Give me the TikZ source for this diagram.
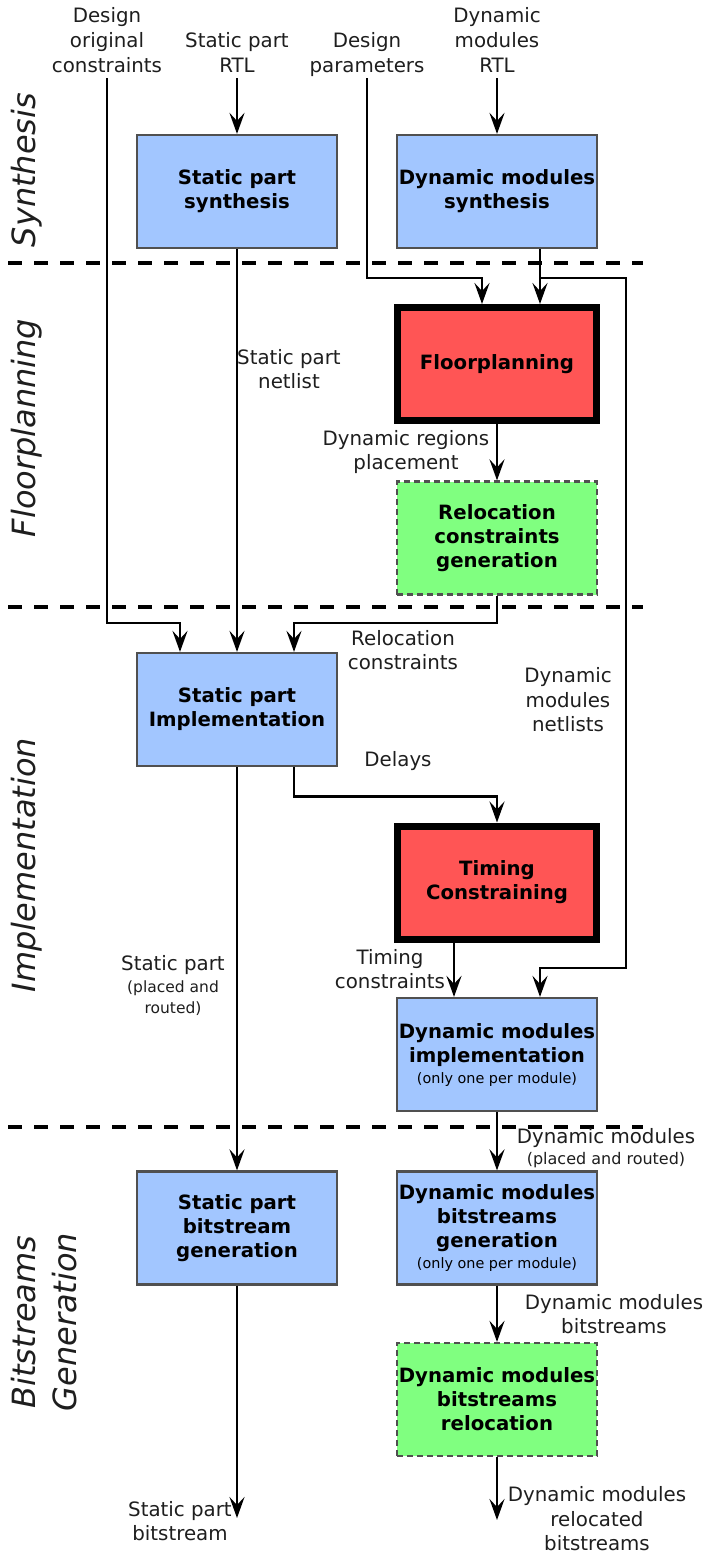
\documentclass[tikz,border=0pt]{standalone}
\usepackage{fontspec}
\setmainfont{DejaVu Sans}
\usetikzlibrary{arrows.meta,calc}
\definecolor{boxblue}{RGB}{162,198,255}
\definecolor{boxred}{RGB}{255,85,85}
\definecolor{boxgreen}{RGB}{128,255,128}
\definecolor{boxedge}{RGB}{80,80,80}
\definecolor{labelgray}{RGB}{30,30,30}
\newcommand{\smallf}{\fontsize{14.4}{17}\selectfont\mdseries}
\begin{document}
\begin{tikzpicture}[x=1pt,y=-1pt,
  txt/.style={font=\fontsize{19.8}{24.5}\selectfont, text=labelgray, align=center, inner sep=0pt},
  toplbl/.style={txt, font=\fontsize{19.8}{25}\selectfont, anchor=south, text depth=0pt, outer ysep=6pt},
  proc/.style={rectangle, minimum width=200pt, minimum height=113pt, align=center, inner sep=0pt,
    font=\fontsize{19.7}{24}\selectfont\bfseries, text=black},
  bluebox/.style={proc, fill=boxblue, draw=boxedge, line width=2.2pt},
  redbox/.style={proc, fill=boxred, draw=black, line width=7pt, minimum width=199pt},
  greenbox/.style={proc, fill=boxgreen, draw=boxedge, line width=2.2pt, dash pattern=on 6pt off 4pt},
  arr/.style={line width=2.7pt, -{Stealth[length=21pt,width=15pt,inset=8pt]}},
  sepline/.style={line width=4pt, dash pattern=on 14pt off 12pt},
  phase/.style={rotate=90, font=\fontsize{32}{41}\selectfont\itshape, inner sep=0pt, align=center, text=labelgray}
]
\fill[white] (0,0) rectangle (705,1558);
\useasboundingbox (0,0) rectangle (705,1558);

% phase separators
\draw[sepline] (8,263) -- (643,263);
\draw[sepline] (8,607) -- (643,607);
\draw[sepline] (8,1127) -- (643,1127);

% phase labels
\node[phase, anchor=base] (p1) at (35,170) {Synthesis};
\node[phase, anchor=base] (p2) at (35,428) {Floorplanning};
\node[phase, anchor=base] (p3) at (35,865) {Implementation};
\node[phase] (p4) at (44,1322) {Bitstreams\\Generation};

% process boxes
\node[bluebox] (ss) at (237,191.5) {Static part\\synthesis};
\node[bluebox] (ds) at (497,191.5) {Dynamic modules\\synthesis};
\node[redbox] (fp) at (497,364) {Floorplanning};
\node[greenbox] (rc) at (497,538) {Relocation\\constraints\\generation};
\node[bluebox] (si) at (237,709.5) {Static part\\Implementation};
\node[redbox] (tc) at (497,882.5) {Timing\\Constraining};
\node[bluebox] (di) at (497,1054.5) {Dynamic modules\\implementation\\[-3pt]{\smallf (only one per module)}};
\node[bluebox] (sb) at (237,1228) {Static part\\bitstream\\generation};
\node[bluebox] (db) at (497,1228) {Dynamic modules\\bitstreams\\generation\\[-3pt]{\smallf (only one per module)}};
\node[greenbox] (dr) at (497,1399.5) {Dynamic modules\\bitstreams\\relocation};

% input labels
\node[toplbl] (doc) at (107,78) {Design\\original\\constraints};
\node[toplbl] (srtl) at (237,78) {Static part\\RTL};
\node[toplbl] (dpar) at (367,78) {Design\\parameters};
\node[toplbl] (drtl) at (497,78) {Dynamic\\modules\\RTL};

% connector labels
\node[txt] (lnet) at (289,369) {Static part\\netlist};
\node[txt] (lplace) at (406,452) {Dynamic regions\\placement};
\node[txt] (lreloc) at (403,650) {Relocation\\constraints};
\node[txt] (lnets) at (568,700) {Dynamic\\modules\\netlists};
\node[txt] (ldel) at (398,761) {Delays};
\node[txt] (ltim) at (390,969) {Timing\\constraints};
\node[txt] (lspr) at (173,985) {Static part\\[-2pt]{\fontsize{15.5}{18}\selectfont (placed and}\\[-4pt]{\fontsize{15.5}{18}\selectfont routed)}};
\node[txt] (ldmpr) at (606,1148) {Dynamic modules\\[-3pt]{\fontsize{16}{19}\selectfont (placed and routed)}};
\node[txt] (ldmb) at (614,1314) {Dynamic modules\\bitstreams};
\node[txt] (ldmr) at (597,1519) {Dynamic modules\\relocated\\bitstreams};
\node[txt] (lspb) at (180,1521) {Static part\\bitstream};

% free ends
\coordinate (sbend) at (237,1518);
\coordinate (drend) at (497,1520);

% connectors
\draw[arr] (doc.south) |- ($(si.north)+(-57,-29)$) -- ($(si.north)+(-57,0)$);
\draw[arr] (srtl.south) -- (ss.north);
\draw[arr] (ss.south) -- (si.north);
\draw[arr] (dpar.south) |- ($(fp.north)+(-15,-26)$) -- ($(fp.north)+(-15,0)$);
\draw[arr] (drtl.south) -- (ds.north);
\draw[arr] ($(ds.south)+(43,0)$) -- ($(fp.north)+(43,0)$);
\draw[arr] ($(ds.south)+(43,29)$) -| ($(di.north)+(129,-29)$) -| ($(di.north)+(43,0)$);
\draw[arr] (fp.south) -- (rc.north);
\draw[arr] (rc.south) |- ($(si.north)+(57,-29)$) -- ($(si.north)+(57,0)$);
\draw[arr] ($(si.south)+(57,0)$) |- ($(tc.north)+(0,-26)$) -- (tc.north);
\draw[arr] (si.south) -- (sb.north);
\draw[arr] ($(tc.south)+(-43,0)$) -- ($(di.north)+(-43,0)$);
\draw[arr] (di.south) -- (db.north);
\draw[arr] (db.south) -- (dr.north);
\draw[arr] (dr.south) -- (drend);
\draw[arr] (sb.south) -- (sbend);
\end{tikzpicture}
\end{document}
